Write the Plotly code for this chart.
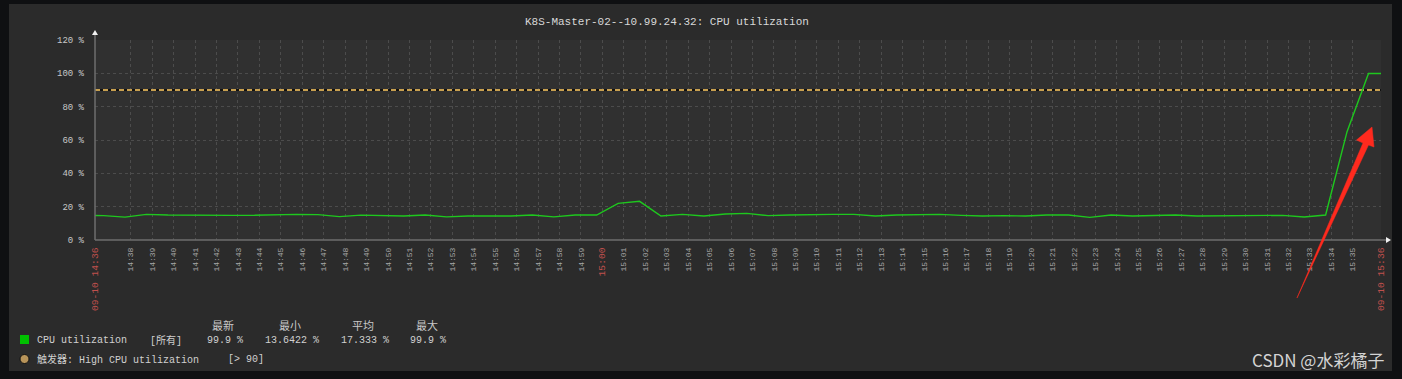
import plotly.graph_objects as go
from datetime import datetime, timedelta

# ---------------- data ----------------
TITLE = "K8S-Master-02--10.99.24.32: CPU utilization"
DAY = "2023-09-10"
range_start = "2023-09-10 14:36:20"
range_end = "2023-09-10 15:36:19"

# one sample per minute at hh:mm:44, from 14:35:44 to 15:36:44
sample_start = "2023-09-10 14:35:44"
cpu_values = [14.8, 14.6, 13.7, 15.4, 15.0, 14.8, 14.8, 14.8, 14.8, 15.2,
              15.4, 15.2, 14.0, 14.9, 14.6, 14.4, 15.0, 13.9, 14.4, 14.4,
              14.4, 15.0, 13.9, 15.0, 15.0, 22.0, 23.2, 14.4, 15.4, 14.4,
              15.6, 16.0, 14.6, 15.0, 15.4, 15.4, 15.4, 14.4, 15.0, 15.0,
              15.4, 14.8, 14.4, 14.6, 14.4, 15.0, 15.0, 13.6, 15.0, 14.4,
              14.6, 15.0, 14.4, 14.4, 14.8, 14.6, 14.8, 13.8, 15.0, 65.0,
              99.9, 99.9]
threshold = 90

y_tickvals = [0, 20, 40, 60, 80, 100, 120]
y_ticktext = ["0 %", "20 %", "40 %", "60 %", "80 %", "100 %", "120 %"]

legend_headers = ["最新", "最小", "平均", "最大"]
legend_stats = ["99.9 %", "13.6422 %", "17.333 %", "99.9 %"]
series_name = "CPU utilization"
trigger_name = "触发器: High CPU utilization"
trigger_cond = "[> 90]"
watermark = "CSDN @水彩橘子"

# ---------------- derived ----------------
t0 = datetime.strptime(sample_start, "%Y-%m-%d %H:%M:%S")
times = [t0 + timedelta(minutes=i) for i in range(len(cpu_values))]

first_tick = datetime.strptime(DAY + " 14:38", "%Y-%m-%d %H:%M")
minute_ticks = [first_tick + timedelta(minutes=i) for i in range(58)]  # 14:38..15:35
RED = "#c0504d"
GRAY = "#a8a8a8"
tickvals = [range_start] + [t.strftime("%Y-%m-%d %H:%M:%S") for t in minute_ticks] + [range_end]
ticktext = ['<span style="color:%s;font-size:9.6px">09-10 14:36</span>' % RED]
for t in minute_ticks:
    lab = t.strftime("%H:%M")
    if lab == "15:00":
        ticktext.append('<span style="color:%s;font-size:9.6px">%s</span>' % (RED, lab))
    else:
        ticktext.append(lab)
ticktext.append('<span style="color:%s;font-size:9.6px">09-10 15:36</span>' % RED)

# ---------------- geometry helpers (pixel -> paper) ----------------
W, H = 1402, 379
L, R, T, B = 95, 1381, 40, 240
def px(x):
    return (x - L) / (R - L)
def py(y):
    return (B - y) / (B - T)

MONO = "Liberation Mono, Noto Sans CJK SC, monospace"

fig = go.Figure()
fig.add_trace(go.Scatter(x=[range_start, range_end], y=[threshold, threshold], mode="lines",
                         line=dict(color="#111111", width=2), hoverinfo="skip", showlegend=False))
fig.add_trace(go.Scatter(x=[range_start, range_end], y=[threshold, threshold], mode="lines",
                         line=dict(color="#c8a050", width=2, dash="5px,3px"), hoverinfo="skip", showlegend=False))
fig.add_trace(go.Scatter(x=times, y=cpu_values, mode="lines",
                         line=dict(color="#1ec81e", width=1.4), showlegend=False))

shapes = [
    # outer panel
    dict(type="rect", xref="paper", yref="paper", x0=px(9), x1=px(1392), y0=py(371), y1=py(4),
         fillcolor="#2b2b2b", line=dict(width=0), layer="below"),
    # plot area
    dict(type="rect", xref="paper", yref="paper", x0=0, x1=1, y0=0, y1=1,
         fillcolor="#303030", line=dict(width=0), layer="below"),
    # axis lines
    dict(type="line", xref="paper", yref="paper", x0=px(95), x1=px(1388), y0=0, y1=0,
         line=dict(color="#6e6e6e", width=1.5)),
    dict(type="line", xref="paper", yref="paper", x0=0, x1=0, y0=0, y1=py(34),
         line=dict(color="#6e6e6e", width=1.5)),
    # axis arrows
    dict(type="path", xref="paper", yref="paper",
         path="M %f %f L %f %f L %f %f Z" % (px(92), py(35), px(98), py(35), px(95), py(30)),
         fillcolor="#f0f0f0", line=dict(width=0)),
    dict(type="path", xref="paper", yref="paper",
         path="M %f %f L %f %f L %f %f Z" % (px(1386), py(237), px(1386), py(243), px(1391), py(240)),
         fillcolor="#f0f0f0", line=dict(width=0)),
    # legend swatches
    dict(type="rect", xref="paper", yref="paper", x0=px(20), x1=px(29), y0=py(344), y1=py(335),
         fillcolor="#00c000", line=dict(width=0)),
    dict(type="circle", xref="paper", yref="paper", x0=px(20), x1=px(29), y0=py(363.5), y1=py(354.5),
         fillcolor="#b8945a", line=dict(color="#111111", width=1)),
    # red annotation arrow
    dict(type="path", xref="paper", yref="paper",
         path="M %f %f L %f %f L %f %f L %f %f L %f %f L %f %f Z" % (
             px(1372), py(127), px(1374), py(147), px(1368.5), py(145),
             px(1297), py(298), px(1363), py(143), px(1356.5), py(140)),
         fillcolor="#ff2a1e", line=dict(color="#ff2a1e", width=0.5)),
]

ann = []
def text(x, y, s, size=10, color="#d0d0d0", family=MONO, xanchor="left"):
    ann.append(dict(x=px(x), y=py(y), xref="paper", yref="paper", text=s, showarrow=False,
                    xanchor=xanchor, yanchor="middle", font=dict(size=size, color=color, family=family)))

text(666.5, 22, TITLE, size=11, color="#d8d8d8", xanchor="center")
for h, cx in zip(legend_headers, [223, 290, 363, 427]):
    text(cx, 326, h, size=11, color="#c8c8c8", xanchor="center")
text(35, 340, series_name, size=10)
text(148, 340, "[所有]", size=10)
for s, x0 in zip(legend_stats, [205, 263, 339, 408]):
    text(x0, 340, s, size=10)
text(35, 359, trigger_name, size=10)
text(226, 359, trigger_cond, size=10)
text(1386, 359, watermark, size=17, color="#d4d4d4",
     family="Noto Sans CJK SC, Noto Sans, sans-serif", xanchor="right")

fig.update_layout(
    width=W, height=H,
    margin=dict(l=L, r=W - R, t=T, b=H - B, pad=0),
    paper_bgcolor="#0f1012",
    plot_bgcolor="rgba(0,0,0,0)",
    shapes=shapes, annotations=ann,
    showlegend=False,
    xaxis=dict(type="date", range=[range_start, range_end], tickmode="array",
               tickvals=tickvals, ticktext=ticktext, tickangle=-90,
               tickfont=dict(family=MONO, size=8, color=GRAY),
               showgrid=True, gridcolor="#4c4c4c", gridwidth=1, griddash="3px,3px",
               zeroline=False, showline=False, ticks="", ticklabelstandoff=5),
    yaxis=dict(range=[0, 120], tickmode="array", tickvals=y_tickvals, ticktext=y_ticktext,
               tickfont=dict(family=MONO, size=9, color="#c8c8c8"),
               showgrid=True, gridcolor="#4c4c4c", gridwidth=1, griddash="3px,3px",
               zeroline=False, showline=False, ticks="", ticklabelstandoff=10),
)

fig.write_html("out.html", config={"displayModeBar": False},
               post_script="document.body.style.margin='0';document.body.style.background='#0f1012';")
